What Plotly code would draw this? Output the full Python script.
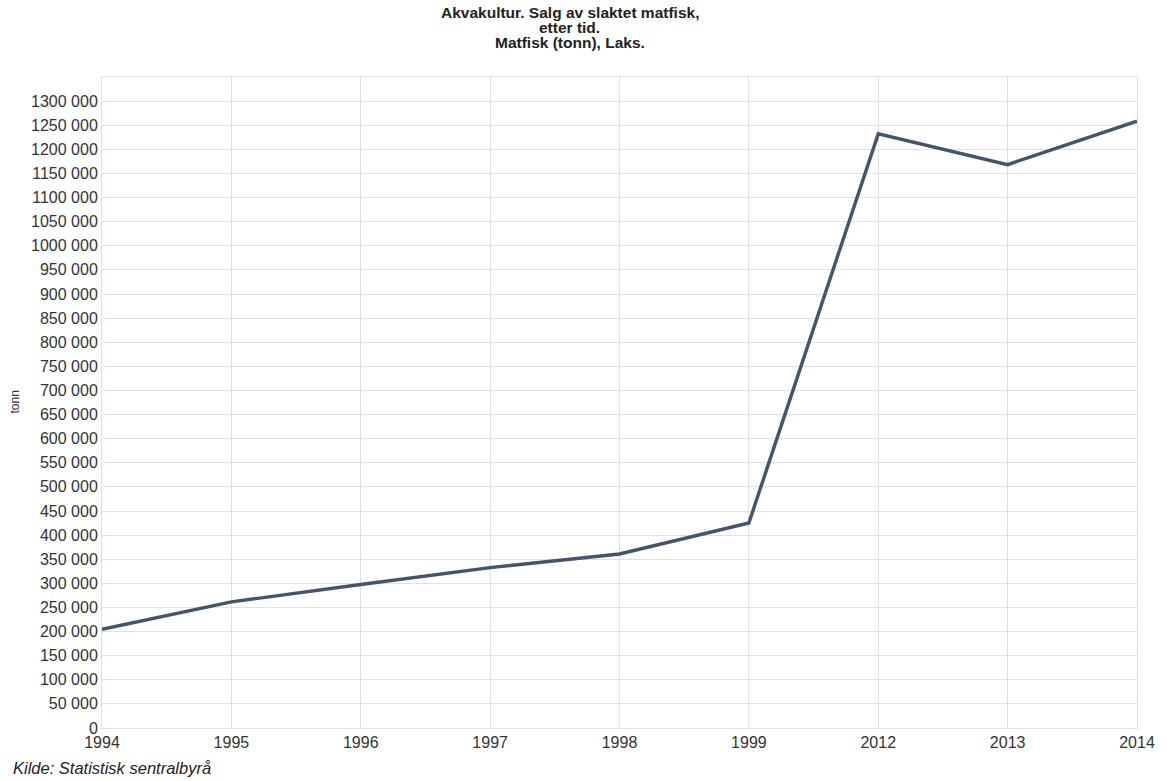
import plotly.graph_objects as go

# Salmon (Laks), sold slaughtered food fish, tonnes
years = ["1994", "1995", "1996", "1997", "1998", "1999", "2012", "2013", "2014"]
tonn = [204700, 261500, 297600, 332600, 360800, 425200, 1232100, 1168300, 1258400]

# y-axis ticks every 50 000 t, grouped as "1300 000"
y_tick_values = list(range(0, 1300001, 50000))
y_tick_labels = [
    "0" if v == 0 else (f"{v // 1000} 000" if v % 1000 == 0 else str(v))
    for v in y_tick_values
]

title_lines = [
    "Akvakultur. Salg av slaktet matfisk,",
    "etter tid.",
    "Matfisk (tonn), Laks.",
]
source_text = "Kilde: Statistisk sentralbyrå"
y_title = "tonn"

FONT = "Liberation Sans, Arial, sans-serif"
GRID = "#e0e0e0"
PLOT_LEFT, PLOT_RIGHT, PLOT_TOP, PLOT_BOTTOM = 102, 25, 77, 53
TITLE_CENTER_PX = 572

fig = go.Figure(
    go.Scatter(
        x=years,
        y=tonn,
        mode="lines",
        line=dict(color="#46536d", width=3.4),
        hoverinfo="x+y",
    )
)

fig.update_layout(
    width=1167,
    height=781,
    margin=dict(l=PLOT_LEFT, r=PLOT_RIGHT, t=PLOT_TOP, b=PLOT_BOTTOM),
    paper_bgcolor="white",
    plot_bgcolor="white",
    showlegend=False,
    font=dict(family=FONT, size=16, color="#333"),
)

fig.update_xaxes(
    type="category",
    range=[0, len(years) - 1],
    showgrid=True,
    gridcolor=GRID,
    gridwidth=1,
    showline=True,
    linecolor=GRID,
    mirror=True,
    ticks="",
    tickfont=dict(family=FONT, size=16, color="#333"),
    zeroline=False,
)

fig.update_yaxes(
    range=[0, 1350000],
    tickvals=y_tick_values,
    ticktext=y_tick_labels,
    showgrid=True,
    gridcolor=GRID,
    gridwidth=1,
    showline=True,
    linecolor=GRID,
    mirror=True,
    ticks="",
    tickfont=dict(family=FONT, size=16, color="#333"),
    zeroline=False,
)

# three-line bold title, 15 px line pitch
for i, line in enumerate(title_lines):
    fig.add_annotation(
        text=f"<b>{line}</b>",
        xref="paper",
        yref="paper",
        x=(TITLE_CENTER_PX - PLOT_LEFT) / (1167 - PLOT_LEFT - PLOT_RIGHT),
        y=1,
        yshift=(PLOT_TOP - 12) - 15 * i,
        xanchor="center",
        yanchor="middle",
        showarrow=False,
        font=dict(family=FONT, size=15.5, color="#222"),
    )

# rotated y-axis title
fig.add_annotation(
    text=y_title,
    xref="paper",
    yref="paper",
    x=0,
    y=0.5,
    xshift=-88,
    xanchor="center",
    yanchor="middle",
    textangle=-90,
    showarrow=False,
    font=dict(family=FONT, size=12, color="#333"),
)

# source note under the plot
fig.add_annotation(
    text=f"<i>{source_text}</i>",
    xref="paper",
    yref="paper",
    x=0,
    y=0,
    xshift=-91,
    yshift=-40,
    xanchor="left",
    yanchor="middle",
    showarrow=False,
    font=dict(family=FONT, size=16.5, color="#222"),
)

fig.write_html("out.html")
